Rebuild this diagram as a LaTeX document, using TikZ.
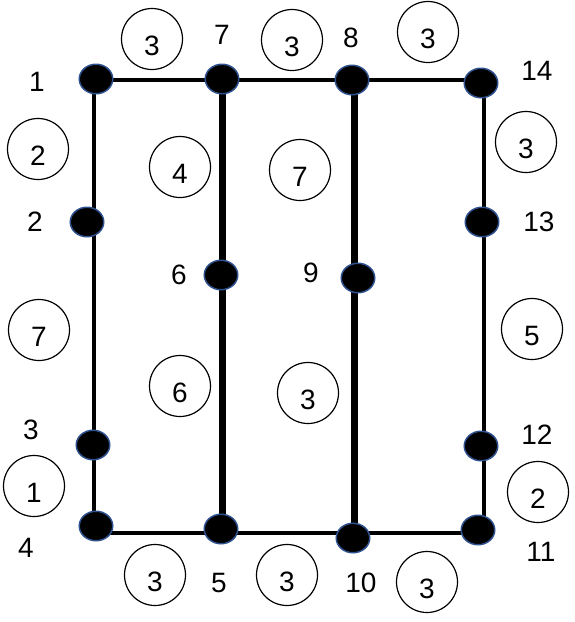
\documentclass[tikz,border=0pt]{standalone}
\usepackage{fontspec}
\setmainfont{Liberation Sans}
\usetikzlibrary{shapes.geometric}
\definecolor{dotblue}{HTML}{2F528F}
\begin{document}
\begin{tikzpicture}[x=1pt,y=-1pt,
  dot/.style={ellipse, fill=black, draw=dotblue, line width=1.5pt, minimum width=33.5pt, minimum height=29.5pt, inner sep=0pt},
  wt/.style={circle, draw=black, line width=1.2pt, minimum size=61pt, inner sep=0pt, font=\fontsize{28}{32}\selectfont, text height=32pt, text depth=0pt},
  lbl/.style={inner sep=0pt, font=\fontsize{28}{32}\selectfont},
  frameline/.style={line width=4pt},
  heavyline/.style={line width=7pt}]
\useasboundingbox (0,0) rectangle (574,622);
% frame corners
\coordinate (tl) at (94,80);
\coordinate (t7) at (222,80);
\coordinate (t8) at (354,80);
\coordinate (tr) at (484,80);
\coordinate (bl) at (94,533);
\coordinate (b5) at (222,533);
\coordinate (b10) at (354,533);
\coordinate (br) at (484,533);
\draw[frameline] (tl) -- (tr) -- (br) -- (bl) -- cycle;
\draw[heavyline] (t7) -- (b5);
\draw[heavyline] (t8) -- (b10);
% dots
\node[dot] (n1) at (96,79) {};
\node[dot] (n2) at (87,222) {};
\node[dot] (n3) at (93,445) {};
\node[dot] (n4) at (96,526) {};
\node[dot] (n5) at (221,529) {};
\node[dot] (n6) at (221,275) {};
\node[dot] (n7) at (222,79) {};
\node[dot] (n8) at (352,80) {};
\node[dot] (n9) at (358,278) {};
\node[dot] (n10) at (353,538) {};
\node[dot] (n11) at (478,530) {};
\node[dot] (n12) at (481,446) {};
\node[dot] (n13) at (482,222) {};
\node[dot] (n14) at (481,83) {};
% node labels
\node[lbl] (l1) at (37,82) {1};
\node[lbl] (l2) at (35,222) {2};
\node[lbl] (l3) at (31,430) {3};
\node[lbl] (l4) at (26,548) {4};
\node[lbl] (l5) at (219,583) {5};
\node[lbl] (l6) at (179,275) {6};
\node[lbl] (l7) at (222,35) {7};
\node[lbl] (l8) at (351,38) {8};
\node[lbl] (l9) at (311,273) {9};
\node[lbl] (l10) at (361,583) {10};
\node[lbl] (l11) at (541,552) {11};
\node[lbl] (l12) at (537,435) {12};
\node[lbl] (l13) at (539,222) {13};
\node[lbl] (l14) at (537,71) {14};
% weights
\node[wt] (w1) at (152,39) {3};
\node[wt] (w2) at (292,40) {3};
\node[wt] (w3) at (428,32) {3};
\node[wt] (w4) at (38,149) {2};
\node[wt] (w5) at (180,167) {4};
\node[wt] (w6) at (300,170) {7};
\node[wt] (w7) at (526,142) {3};
\node[wt] (w8) at (39,330) {7};
\node[wt] (w9) at (180,386) {6};
\node[wt] (w10) at (308,393) {3};
\node[wt] (w11) at (532,329) {5};
\node[wt] (w12) at (34,486) {1};
\node[wt] (w13) at (538,492) {2};
\node[wt] (w14) at (155,575) {3};
\node[wt] (w15) at (287,575) {3};
\node[wt] (w16) at (427,582) {3};
\end{tikzpicture}
\end{document}
